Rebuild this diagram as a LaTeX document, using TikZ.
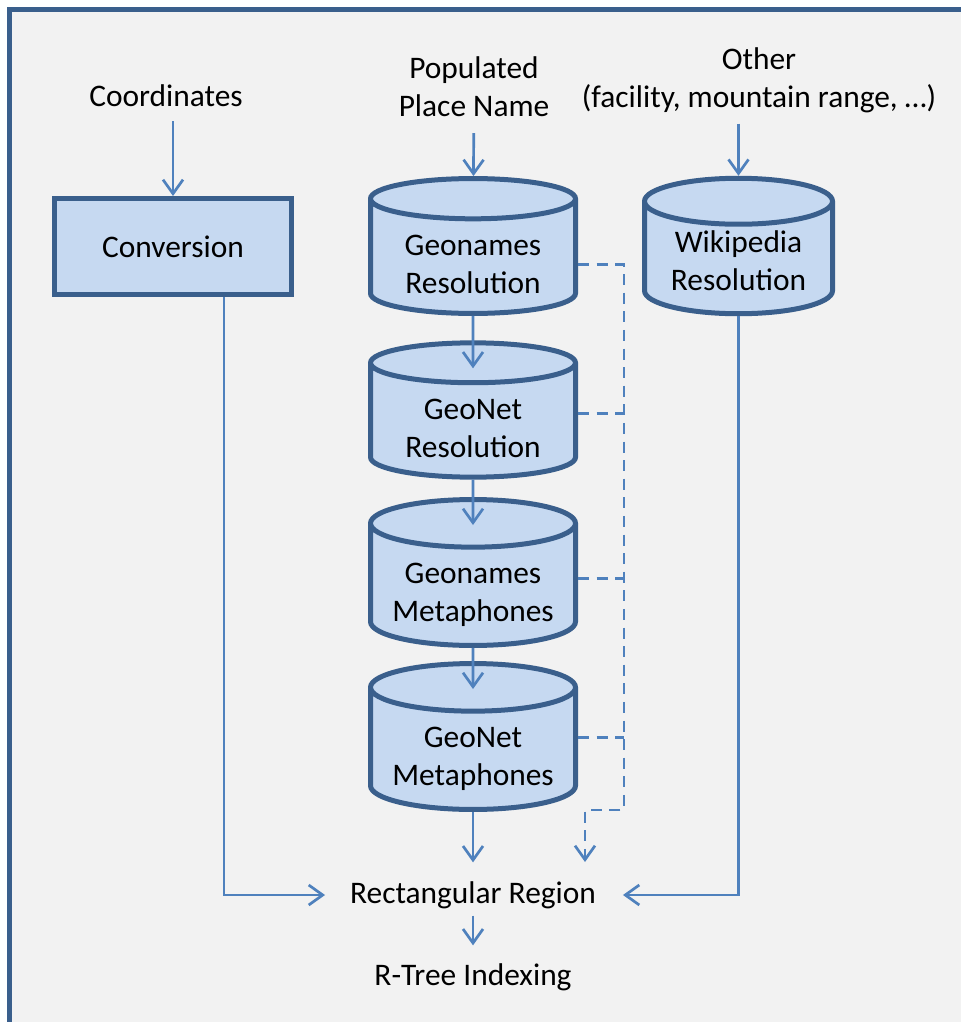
\documentclass[tikz,border=0pt]{standalone}
\usepackage{fontspec}
\setmainfont{Carlito}
\usetikzlibrary{arrows.meta,positioning,shapes.geometric}
\definecolor{flowblue}{HTML}{4F81BD}
\definecolor{edgeblue}{HTML}{3A5F8C}
\definecolor{fillblue}{HTML}{C6D9F1}
\definecolor{panelgray}{HTML}{F2F2F2}

\begin{document}
\begin{tikzpicture}[x=0.5pt,y=-0.5pt,>={Straight Barb[length=7pt,width=10pt]},
font=\fontsize{15.7}{19}\selectfont,
db/.style={cylinder,shape border rotate=90,aspect=0.295,draw=edgeblue,line width=2.5pt,fill=fillblue,
  minimum width=102.5pt,align=center,inner sep=0pt,text height=36pt,text depth=-4.25pt,anchor=shape center},
box/.style={draw=edgeblue,line width=2.5pt,fill=fillblue,minimum width=118.5pt,minimum height=48pt},
lbl/.style={align=center},
flow/.style={->,draw=flowblue,line width=1.35pt},
feed/.style={flow,dash pattern=on 5.5pt off 3.8pt}]
\useasboundingbox (0,0) rectangle (961,1022);
\clip (0,0) rectangle (961,1022);
% panel
\draw[edgeblue,line width=2.25pt,fill=panelgray] (9.3,9.5) rectangle (1000,1060);

% inputs
\node[lbl] (coords) at (166,96) {Coordinates};
\node[lbl] (placename) at (474,87) {Populated\\Place Name};
\node[lbl] (other) at (759,80) {Other\\(facility, mountain range, \dots)};

% resolvers
\node[box] (conv) at (173,246.5) {Conversion};
\node[db] (geores) at (473,246) {Geonames\\Resolution};
\node[db] (geonetres) at (473,410) {GeoNet\\Resolution};
\node[db] (geometa) at (473,572.5) {Geonames\\Metaphones};
\node[db] (geonetmeta) at (473,736.5) {GeoNet\\Metaphones};
\node[db,minimum width=94pt,aspect=0.34,text height=32pt] (wiki) at (738.5,246) {Wikipedia\\Resolution};

% output
\node[lbl] (rect) at (473,895) {Rectangular Region};
\node[lbl] (rtree) at (473,977) {R-Tree Indexing};
\coordinate (trunk) at (624,810);
\coordinate (drop) at (585,862);

\draw[flow,shorten <=3.5pt] (coords.south -| conv.north) -- (conv.north);
\draw[flow,shorten <=4.5pt] (placename) -- (geores);
\draw[flow,shorten <=2pt] (other.south -| wiki.north) -- (wiki.north);
\draw[flow] (geores) -- ([yshift=-14pt]geonetres.north);
\draw[flow] (geonetres) -- ([yshift=-14pt]geometa.north);
\draw[flow] (geometa) -- ([yshift=-14pt]geonetmeta.north);
\draw[flow,shorten >=6pt] (geonetmeta) -- (rect);
\draw[flow,shorten >=9pt] ([xshift=25.5pt]conv.south) |- (rect.west);
\draw[flow,shorten >=10pt] (wiki) |- (rect.east);
\draw[flow,shorten >=5.5pt] (rect) -- (rtree);

% fallback feed
\draw[feed] ([yshift=-3.5pt]geores.east) -| (trunk) -| (drop);
\draw[feed,-] ([yshift=4pt]geonetres.east) -- ([yshift=4pt]geonetres.east -| trunk);
\draw[feed,-] ([yshift=3.5pt]geometa.east) -- ([yshift=3.5pt]geometa.east -| trunk);
\draw[feed,-] ([yshift=6pt]geonetmeta.east) -- ([yshift=6pt]geonetmeta.east -| trunk);
\end{tikzpicture}
\end{document}
